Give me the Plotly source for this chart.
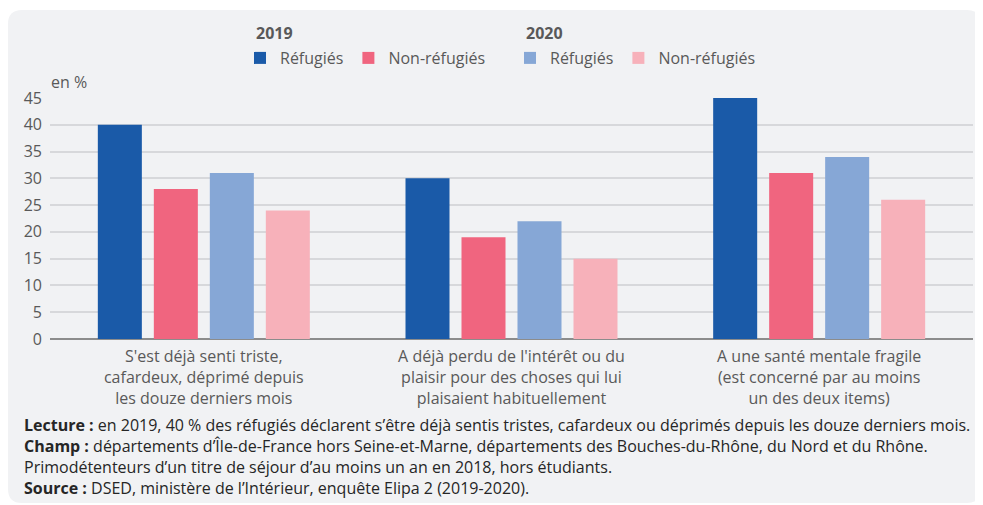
import plotly.graph_objects as go

categories = [
    "S'est déjà senti triste,<br>cafardeux, déprimé depuis<br>les douze derniers mois",
    "A déjà perdu de l'intérêt ou du<br>plaisir pour des choses qui lui<br>plaisaient habituellement",
    "A une santé mentale fragile<br>(est concerné par au moins<br>un des deux items)",
]
refugies_2019 = [40, 30, 45]
non_refugies_2019 = [28, 19, 31]
refugies_2020 = [31, 22, 34]
non_refugies_2020 = [24, 15, 26]
y_ticks = [0, 5, 10, 15, 20, 25, 30, 35, 40, 45]

# the page body has an 8px margin; work in page pixels and convert
OFF = 8
W, H = 983 - OFF, 505 - OFF
PL, PR, PT, PB = 50, 973, 98, 339   # plot area in page pixels
ML, MT = PL - OFF, PT - OFF
MR = W - (PR - OFF)
MB = H - (PB - OFF)
PW, PH = PR - PL, PB - PT

def px_x(x):
    return (x - PL) / PW

def px_y(y):
    return (PB - y) / PH

FONT = "Open Sans"
GRAY = "#595959"

fig = go.Figure()
series = [
    ("Réfugiés", refugies_2019, "#1a5aa8", "legend"),
    ("Non-réfugiés", non_refugies_2019, "#f0657f", "legend"),
    ("Réfugiés", refugies_2020, "#86a7d6", "legend2"),
    ("Non-réfugiés", non_refugies_2020, "#f7b1ba", "legend2"),
]
for name, vals, col, lg in series:
    fig.add_trace(go.Bar(
        x=categories, y=vals, name=name, legend=lg,
        marker=dict(color=col, line=dict(width=0)),
        hovertemplate="%{y}<extra>" + name + "</extra>",
    ))

# rounded panel background
x0, x1 = px_x(8), px_x(981)
y0, y1 = px_y(503), px_y(10)
rx, ry = 14 / PW, 14 / PH
path = (f"M {x0+rx},{y0} L {x1-rx},{y0} Q {x1},{y0} {x1},{y0+ry} "
        f"L {x1},{y1-ry} Q {x1},{y1} {x1-rx},{y1} L {x0+rx},{y1} "
        f"Q {x0},{y1} {x0},{y1-ry} L {x0},{y0+ry} Q {x0},{y0} {x0+rx},{y0} Z")
fig.add_shape(type="path", path=path, xref="paper", yref="paper",
              fillcolor="#f1f2f4", line=dict(width=0), layer="below")

legend_common = dict(
    orientation="h", xanchor="left", yanchor="middle",
    bgcolor="rgba(0,0,0,0)",
    font=dict(family=FONT, size=16, color=GRAY),
    itemwidth=30, traceorder="normal",
)
fig.update_layout(
    width=W, height=H,
    margin=dict(l=ML, r=MR, t=MT, b=MB),
    paper_bgcolor="white", plot_bgcolor="rgba(0,0,0,0)",
    barmode="group", bargap=0.272, bargroupgap=0.214,
    font=dict(family=FONT, size=16, color=GRAY),
    legend=dict(**legend_common, x=px_x(240), y=px_y(58)),
    legend2=dict(**legend_common, x=px_x(510), y=px_y(58)),
    showlegend=True,
)
fig.update_xaxes(showgrid=False, showline=False, ticks="", ticklabelstandoff=6,
                 tickfont=dict(family=FONT, size=16, color=GRAY))
fig.update_yaxes(range=[0, 45], tickvals=y_ticks, showgrid=True,
                 gridcolor="#d7d8db", gridwidth=2, zeroline=True,
                 zerolinecolor="#8c8c8c", zerolinewidth=2,
                 ticks="", ticklabelstandoff=7,
                 tickfont=dict(family=FONT, size=16, color=GRAY))

for title, xx in [("2019", 254), ("2020", 524)]:
    fig.add_annotation(text=f"<b>{title}</b>", xref="paper", yref="paper",
                       x=px_x(xx), y=px_y(33), xanchor="left", yanchor="middle",
                       showarrow=False, font=dict(family=FONT, size=16, color=GRAY))

fig.add_annotation(text="en %", xref="paper", yref="paper",
                   x=px_x(49), y=px_y(82), xanchor="left", yanchor="middle",
                   showarrow=False, font=dict(family=FONT, size=16, color=GRAY))

notes = [
    ("<b>Lecture :</b> en 2019, 40 % des réfugiés déclarent s’être déjà sentis tristes, cafardeux ou déprimés depuis les douze derniers mois.", 425),
    ("<b>Champ :</b> départements d’Île-de-France hors Seine-et-Marne, départements des Bouches-du-Rhône, du Nord et du Rhône.", 446),
    ("Primodétenteurs d’un titre de séjour d’au moins un an en 2018, hors étudiants.", 467),
    ("<b>Source :</b> DSED, ministère de l’Intérieur, enquête Elipa 2 (2019-2020).", 488),
]
for txt, yy in notes:
    fig.add_annotation(text=txt, xref="paper", yref="paper",
                       x=px_x(22), y=px_y(yy), xanchor="left", yanchor="middle",
                       showarrow=False, align="left",
                       font=dict(family=FONT, size=16, color="#262626"))

fig.write_html("out.html")
